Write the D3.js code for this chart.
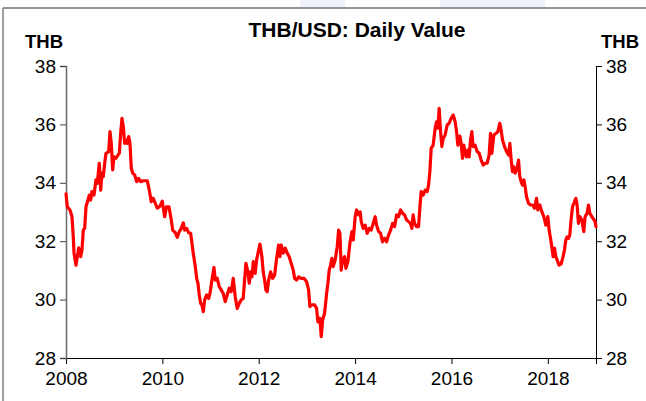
<!DOCTYPE html>
<html><head><meta charset="utf-8">
<script src="https://cdn.jsdelivr.net/npm/d3@7"></script>
<style>
html,body{margin:0;padding:0;background:#fff;}
svg{display:block;font-family:"Liberation Sans",Arial,sans-serif;}
</style></head>
<body><svg id="c" width="646" height="401"></svg>
<script>
const chartTitle = "THB/USD: Daily Value";
const unitLabel = "THB";
const xTicks = [2008, 2010, 2012, 2014, 2016, 2018];
const yTicks = [28, 30, 32, 34, 36, 38];
const dates = [
2008.000,2008.027,2008.083,2008.124,2008.151,2008.166,2008.207,2008.234,2008.263,2008.305,
2008.332,2008.359,2008.388,2008.415,2008.456,2008.483,2008.512,2008.539,2008.581,2008.622,
2008.649,2008.691,2008.720,2008.747,2008.774,2008.803,2008.830,2008.886,2008.913,2008.940,
2008.969,2008.996,2009.037,2009.079,2009.106,2009.135,2009.162,2009.189,2009.218,2009.245,
2009.272,2009.301,2009.328,2009.355,2009.384,2009.425,2009.467,2009.508,2009.550,2009.604,
2009.687,2009.728,2009.770,2009.811,2009.853,2009.894,2009.950,2009.998,2010.048,2010.085,
2010.137,2010.185,2010.214,2010.268,2010.309,2010.351,2010.392,2010.434,2010.463,2010.504,
2010.546,2010.587,2010.614,2010.641,2010.683,2010.712,2010.739,2010.766,2010.795,2010.822,
2010.849,2010.878,2010.919,2010.961,2010.988,2011.029,2011.071,2011.098,2011.139,2011.180,
2011.222,2011.263,2011.305,2011.346,2011.388,2011.429,2011.471,2011.512,2011.554,2011.595,
2011.637,2011.678,2011.707,2011.734,2011.776,2011.803,2011.832,2011.859,2011.888,2011.927,
2011.956,2011.998,2012.025,2012.066,2012.093,2012.122,2012.149,2012.176,2012.205,2012.247,
2012.288,2012.330,2012.371,2012.413,2012.440,2012.467,2012.508,2012.550,2012.591,2012.633,
2012.674,2012.716,2012.745,2012.786,2012.828,2012.882,2012.938,2012.994,2013.035,2013.062,
2013.104,2013.160,2013.201,2013.228,2013.270,2013.297,2013.326,2013.367,2013.409,2013.436,
2013.463,2013.492,2013.519,2013.546,2013.587,2013.629,2013.658,2013.685,2013.712,2013.741,
2013.782,2013.809,2013.851,2013.892,2013.934,2013.961,2014.002,2014.031,2014.073,2014.106,
2014.127,2014.168,2014.210,2014.251,2014.293,2014.334,2014.376,2014.417,2014.446,2014.488,
2014.529,2014.571,2014.612,2014.654,2014.695,2014.737,2014.778,2014.820,2014.861,2014.902,
2014.944,2014.985,2015.027,2015.068,2015.110,2015.151,2015.178,2015.205,2015.234,2015.276,
2015.317,2015.344,2015.371,2015.413,2015.454,2015.496,2015.525,2015.552,2015.579,2015.620,
2015.662,2015.691,2015.718,2015.745,2015.774,2015.801,2015.828,2015.869,2015.911,2015.952,
2015.994,2016.036,2016.077,2016.106,2016.133,2016.174,2016.201,2016.230,2016.257,2016.284,
2016.313,2016.340,2016.367,2016.396,2016.423,2016.450,2016.492,2016.533,2016.575,2016.616,
2016.658,2016.699,2016.741,2016.782,2016.811,2016.838,2016.880,2016.921,2016.963,2017.004,
2017.031,2017.060,2017.102,2017.143,2017.185,2017.212,2017.239,2017.268,2017.295,2017.322,
2017.363,2017.392,2017.419,2017.446,2017.475,2017.502,2017.529,2017.558,2017.600,2017.641,
2017.683,2017.724,2017.766,2017.793,2017.834,2017.876,2017.917,2017.959,2018.000,2018.027,
2018.056,2018.083,2018.110,2018.139,2018.166,2018.193,2018.234,2018.276,2018.317,2018.346,
2018.373,2018.400,2018.429,2018.456,2018.483,2018.512,2018.554,2018.581,2018.608,2018.635,
2018.664,2018.705,2018.747,2018.774,2018.815,2018.844,2018.871,2018.913,2018.940,2018.981,
2019.000
];
const values = [
33.62,33.18,33.07,32.84,32.15,31.60,31.18,31.47,31.77,31.47,
31.70,32.38,32.45,33.18,33.41,33.58,33.41,33.70,33.58,34.10,
33.98,34.67,33.75,34.33,34.21,34.67,35.01,35.07,35.75,35.35,
34.44,34.89,34.84,34.95,35.01,35.69,36.21,35.92,35.35,35.47,
35.35,35.58,35.35,34.50,34.33,34.27,34.04,34.15,34.04,34.07,
34.07,33.75,33.35,33.47,33.30,33.13,33.20,33.37,32.84,33.18,
33.18,32.73,32.38,32.29,32.13,32.33,32.44,32.63,32.38,32.44,
32.29,32.27,31.93,31.59,31.13,30.73,30.56,30.16,29.87,29.82,
29.59,29.99,30.16,30.04,30.21,30.67,31.10,30.67,30.73,30.44,
30.33,30.21,29.93,30.16,30.39,30.27,30.73,30.10,29.70,29.87,
29.99,30.04,30.67,31.24,30.95,30.56,30.95,30.78,31.30,30.90,
31.36,31.70,31.90,31.47,30.95,30.67,30.33,30.27,30.67,30.95,
30.73,30.84,31.41,31.87,31.47,31.87,31.59,31.76,31.59,31.47,
31.24,31.01,30.73,30.67,30.78,30.73,30.73,30.61,30.33,29.76,
29.82,29.82,29.70,29.24,29.36,28.73,29.30,29.53,30.21,30.56,
31.01,31.18,31.41,31.13,31.36,31.81,32.38,32.27,31.01,31.36,
31.47,31.07,31.30,31.93,32.33,32.04,32.84,33.07,32.90,33.00,
32.67,32.44,32.55,32.27,32.44,32.38,32.61,32.84,32.55,32.33,
32.27,31.98,32.10,31.98,32.21,32.38,32.61,32.50,32.90,32.84,
33.07,32.96,32.90,32.73,32.67,32.61,32.44,32.90,32.61,32.50,
32.50,33.13,33.70,33.58,33.75,33.70,33.92,34.38,35.18,35.29,
35.87,36.09,35.87,36.55,35.75,35.24,35.52,35.64,35.98,36.04,
36.21,36.32,36.09,35.75,35.29,35.60,35.35,34.84,35.29,35.01,
34.89,35.12,34.89,35.47,35.75,35.24,35.29,35.07,35.01,34.78,
34.61,34.67,34.67,34.95,35.69,35.01,35.64,35.69,35.75,36.04,
35.81,35.47,35.24,35.07,34.95,35.35,34.78,34.38,34.55,34.33,
34.50,34.78,34.21,34.04,33.92,34.10,33.87,33.52,33.30,33.24,
33.24,33.13,33.47,33.07,33.24,33.01,32.84,32.55,32.84,32.38,
32.10,31.81,31.47,31.76,31.47,31.36,31.18,31.22,31.47,31.70,
32.04,32.15,32.10,32.21,32.73,33.18,33.35,33.47,33.24,32.61,
32.84,32.73,32.33,32.84,32.96,33.24,32.96,32.84,32.78,32.67,
32.50
];

const svg = d3.select("#c");
const W = 646, H = 401;
const mLeft = 66, mRight = 596, mTop = 66, mBottom = 358;

// faint header watermark
svg.append("rect").attr("x", 300).attr("y", 0).attr("width", 45).attr("height", 7).attr("fill", "#eef1f8");
svg.append("rect").attr("x", 440).attr("y", 0).attr("width", 105).attr("height", 7).attr("fill", "#eef1f8");

// frame
svg.append("line").attr("x1", 3).attr("x2", W).attr("y1", 8).attr("y2", 8).attr("stroke", "#6f6f6f").attr("stroke-width", 1.5);
svg.append("line").attr("x1", 3).attr("x2", 3).attr("y1", 8).attr("y2", H).attr("stroke", "#7f7f7f").attr("stroke-width", 1.5);

const x = d3.scaleLinear().domain([2008, 2019]).range([mLeft, mRight]);
const y = d3.scaleLinear().domain([28, 38]).range([mBottom, mTop]);

const fs = 19;
const xAxis = svg.append("g").attr("transform", `translate(0,${mBottom})`)
  .call(d3.axisBottom(x).tickValues(xTicks).tickFormat(d3.format("d")).tickSizeOuter(0).tickSize(6).tickPadding(8));
const yAxisL = svg.append("g").attr("transform", `translate(${mLeft},0)`)
  .call(d3.axisLeft(y).tickValues(yTicks).tickSizeOuter(0).tickSize(6).tickPadding(4));
const yAxisR = svg.append("g").attr("transform", `translate(${mRight},0)`)
  .call(d3.axisRight(y).tickValues(yTicks).tickSizeOuter(0).tickSize(6).tickPadding(4));
[xAxis, yAxisL, yAxisR].forEach(g => {
  g.selectAll("text").attr("font-size", fs).attr("fill", "#000").attr("font-family", "Liberation Sans, Arial, sans-serif");
  g.selectAll("line").attr("stroke", "#000");
  g.select(".domain").attr("stroke", "#000");
});
yAxisL.select(".domain").attr("stroke", "#6a6a6a").attr("stroke-width", 1.5);
yAxisL.selectAll(".tick line").attr("stroke", "#444");

const pts = dates.map((d, i) => [d, values[i]]);
const line = d3.line().x(d => x(d[0])).y(d => y(d[1]));
svg.append("path").datum(pts).attr("d", line)
  .attr("fill", "none").attr("stroke", "#ff0000").attr("stroke-width", 3.2)
  .attr("stroke-linejoin", "round").attr("stroke-linecap", "round");

svg.append("text").attr("x", 357).attr("y", 37).attr("text-anchor", "middle")
  .attr("font-size", 21).attr("font-weight", "bold").text(chartTitle);
svg.append("text").attr("x", 25).attr("y", 48).attr("font-size", 18.5).attr("font-weight", "bold").text(unitLabel);
svg.append("text").attr("x", 601).attr("y", 48).attr("font-size", 18.5).attr("font-weight", "bold").text(unitLabel);
</script></body></html>
